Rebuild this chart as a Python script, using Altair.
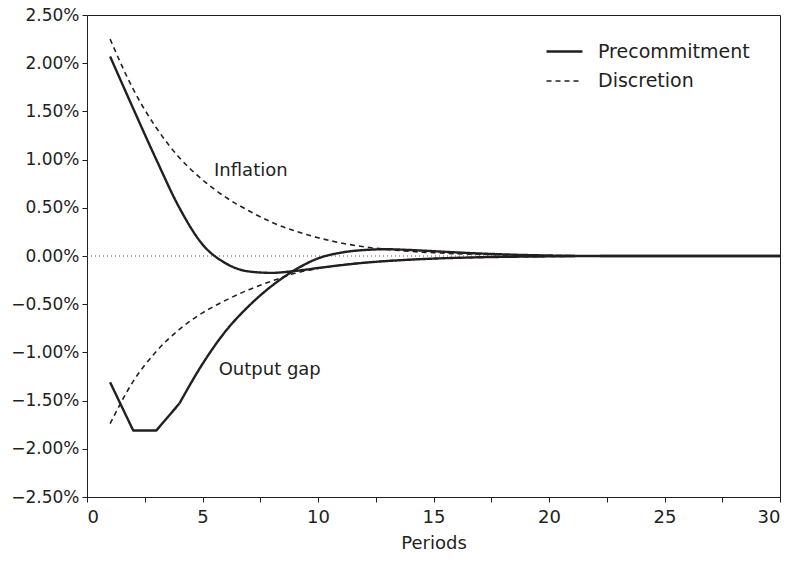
import altair as alt
import pandas as pd

periods = list(range(1, 31))

# values in percent
infl_pre = [2.07, 1.53, 1.00, 0.50, 0.12, -0.075, -0.16, -0.175, -0.155, -0.125,
            -0.095, -0.07, -0.052, -0.038, -0.027, -0.019, -0.013, -0.009, -0.006, -0.004,
            -0.002, -0.001, 0.0, 0.0, 0.0, 0.0, 0.0, 0.0, 0.0, 0.0]
gap_pre = [-1.31, -1.81, -1.81, -1.53, -1.12, -0.78, -0.52, -0.31, -0.145, -0.025,
           0.035, 0.062, 0.07, 0.062, 0.05, 0.037, 0.026, 0.017, 0.01, 0.005,
           0.002, 0.001, 0.0, 0.0, 0.0, 0.0, 0.0, 0.0, 0.0, 0.0]
infl_dis = [2.25, 1.73, 1.33, 1.02, 0.79, 0.61, 0.47, 0.35, 0.26, 0.19,
            0.135, 0.095, 0.068, 0.048, 0.034, 0.024, 0.017, 0.012, 0.008, 0.005,
            0.003, 0.002, 0.001, 0.0, 0.0, 0.0, 0.0, 0.0, 0.0, 0.0]
gap_dis = [-1.74, -1.30, -0.99, -0.76, -0.59, -0.46, -0.35, -0.26, -0.18, -0.13,
           -0.095, -0.07, -0.05, -0.037, -0.027, -0.02, -0.014, -0.01, -0.007, -0.005,
           -0.003, -0.002, -0.001, 0.0, 0.0, 0.0, 0.0, 0.0, 0.0, 0.0]

x_ticks = [0, 2.5, 5, 7.5, 10, 12.5, 15, 17.5, 20, 22.5, 25, 27.5, 30]
y_ticks = [-0.025, -0.02, -0.015, -0.01, -0.005, 0, 0.005, 0.01, 0.015, 0.02, 0.025]

series = [
    ("Precommitment", "Inflation", infl_pre),
    ("Precommitment", "Output gap", gap_pre),
    ("Discretion", "Inflation", infl_dis),
    ("Discretion", "Output gap", gap_dis),
]
rows = []
for regime, var, vals in series:
    for p, v in zip(periods, vals):
        if regime == "Precommitment" and var == "Output gap":
            # first periods drawn with straight segments, the rest smooth
            if p <= 4:
                rows.append({"period": p, "value": v / 100, "regime": regime, "var": var, "seg": "a", "kind": "linear"})
            if p >= 4:
                rows.append({"period": p, "value": v / 100, "regime": regime, "var": var, "seg": "b", "kind": "smooth"})
        else:
            rows.append({"period": p, "value": v / 100, "regime": regime, "var": var, "seg": "a", "kind": "smooth"})
df = pd.DataFrame(rows)

label_text = ["Inflation", "Output gap"]
label_x = [5.5, 5.7]
label_y = [0.0088, -0.0118]
labels = pd.DataFrame({"text": label_text, "x": label_x, "y": label_y})

zero = pd.DataFrame({"x": [0], "x2": [30], "y": [0.0]})

FONT = "DejaVu Sans"
INK = "#231f20"

xs = alt.Scale(domain=[0, 30], nice=False)
ys = alt.Scale(domain=[-0.025, 0.025], nice=False)
dash_scale = alt.Scale(domain=["Precommitment", "Discretion"], range=[[1, 0], [5, 4]])
width_scale = alt.Scale(domain=["Precommitment", "Discretion"], range=[2.4, 1.6])

zero_line = alt.Chart(zero).mark_rule(color="#555", strokeWidth=1, strokeDash=[1, 3]).encode(
    x=alt.X("x:Q", scale=xs), x2="x2:Q", y=alt.Y("y:Q", scale=ys)
)

x_enc = alt.X("period:Q", scale=xs,
              axis=alt.Axis(title="Periods", values=x_ticks,
                            labelExpr="datum.value % 5 == 0 ? datum.label : ''",
                            grid=False))
y_enc = alt.Y("value:Q", scale=ys,
              axis=alt.Axis(title=None, format=".2%", values=y_ticks, grid=False))

base = alt.Chart(df).encode(
    x=x_enc,
    y=y_enc,
    strokeDash=alt.StrokeDash(
        "regime:N", scale=dash_scale,
        legend=alt.Legend(title=None, orient="none", legendX=458, legendY=17,
                          symbolType="stroke", symbolSize=1296, symbolStrokeWidth=2.2,
                          symbolStrokeColor=INK, labelFontSize=19, labelFont=FONT,
                          labelColor=INK, rowPadding=-5, labelOffset=14),
    ),
    strokeWidth=alt.StrokeWidth("regime:N", scale=width_scale, legend=None),
    detail=alt.Detail(["var:N", "seg:N"]),
)

smooth = base.transform_filter("datum.kind == 'smooth'").mark_line(
    color=INK, interpolate="monotone", strokeJoin="round")

kinked = base.transform_filter("datum.kind == 'linear'").mark_line(
    color=INK, interpolate="linear", strokeJoin="round")

text = alt.Chart(labels).mark_text(align="left", baseline="middle", fontSize=18, font=FONT, color=INK).encode(
    x=alt.X("x:Q", scale=xs), y=alt.Y("y:Q", scale=ys), text="text:N"
)

chart = alt.layer(zero_line, smooth, kinked, text).properties(
    width=693, height=482,
    autosize=alt.AutoSizeParams(type="none"),
    padding={"left": 79, "top": 7, "right": 4, "bottom": 60},
).configure_view(stroke=INK, strokeWidth=1).configure_axis(
    domainColor=INK, tickColor=INK, labelColor=INK, titleColor=INK,
    labelFont=FONT, titleFont=FONT, labelFontSize=18, titleFontSize=18,
    titleFontWeight="normal", tickSize=5, labelPadding=4,
).configure_axisY(labelFontSize=17, labelPadding=3).configure_axisX(titlePadding=8, labelPadding=6)

chart.save("out.html", embed_options={"renderer": "svg", "actions": False})
